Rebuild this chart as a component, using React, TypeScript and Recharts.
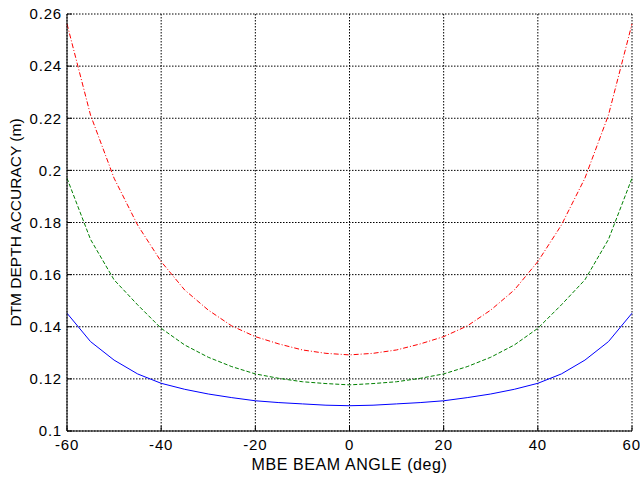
import React from "react";
import { LineChart, Line, XAxis, YAxis, CartesianGrid } from "recharts";

// beam angle (deg)
const angles = [
  -60, -55, -50, -45, -40, -35, -30, -25, -20, -15, -10, -5, 0,
  5, 10, 15, 20, 25, 30, 35, 40, 45, 50, 55, 60,
];

// DTM depth accuracy (m) for the three cases
const redSeries = [
  0.2562, 0.2212, 0.197, 0.179, 0.165, 0.1541, 0.1464, 0.1403, 0.1362, 0.1334, 0.1311, 0.1298, 0.1292,
  0.1298, 0.1311, 0.1334, 0.1362, 0.1403, 0.1464, 0.1541, 0.165, 0.179, 0.197, 0.2212, 0.2562,
];
const greenSeries = [
  0.197, 0.1735, 0.158, 0.1484, 0.1394, 0.133, 0.1283, 0.1247, 0.1219, 0.1202, 0.1189, 0.1182, 0.1177,
  0.1182, 0.1189, 0.1202, 0.1219, 0.1247, 0.1283, 0.133, 0.1394, 0.1484, 0.158, 0.1735, 0.197,
];
const blueSeries = [
  0.1452, 0.1343, 0.1272, 0.1219, 0.1183, 0.116, 0.1142, 0.1128, 0.1116, 0.1109, 0.1104, 0.1099, 0.1097,
  0.1099, 0.1104, 0.1109, 0.1116, 0.1128, 0.1142, 0.116, 0.1183, 0.1219, 0.1272, 0.1343, 0.1452,
];

const xTicks = [-60, -40, -20, 0, 20, 40, 60];
const yTicks = [0.1, 0.12, 0.14, 0.16, 0.18, 0.2, 0.22, 0.24, 0.26];

const data = angles.map((angle, i) => ({
  angle,
  red: redSeries[i],
  green: greenSeries[i],
  blue: blueSeries[i],
}));

const FONT = "'Liberation Sans', Arial, Helvetica, sans-serif";
const tickStyle = { fontSize: 15, fill: "#000", fontFamily: FONT, letterSpacing: 0.8 };

export default function App() {
  return (
    <div style={{ position: "absolute", left: 0, top: 0, background: "#fff" }}>
      <LineChart
        width={640}
        height={477}
        data={data}
        margin={{ top: 14, right: 8, left: 0, bottom: 0 }}
        style={{ fontFamily: FONT }}
      >
        <CartesianGrid stroke="#000" strokeDasharray="1.5 1.5" strokeWidth={1} />
        <XAxis
          dataKey="angle"
          type="number"
          domain={[-60, 60]}
          ticks={xTicks}
          height={46}
          tickSize={-5}
          tickMargin={13}
          tick={tickStyle}
          axisLine={{ stroke: "#000", strokeWidth: 1 }}
          tickLine={{ stroke: "#000" }}
          label={{
            value: "MBE BEAM ANGLE (deg)",
            position: "insideBottom",
            offset: 7,
            style: { fontSize: 16, fill: "#000", fontFamily: FONT, letterSpacing: 0.6 },
          }}
        />
        <XAxis
          xAxisId="top"
          orientation="top"
          mirror
          type="number"
          domain={[-60, 60]}
          allowDataOverflow
          ticks={xTicks}
          height={0}
          tick={false}
          tickSize={5}
          axisLine={{ stroke: "#000", strokeWidth: 1 }}
          tickLine={{ stroke: "#000" }}
        />
        <YAxis
          type="number"
          domain={[0.1, 0.26]}
          ticks={yTicks}
          width={67}
          tickSize={-5}
          tickMargin={10}
          tick={tickStyle}
          tickFormatter={(v: number) => String(+v.toFixed(2))}
          axisLine={{ stroke: "#000", strokeWidth: 1 }}
          tickLine={{ stroke: "#000" }}
          label={{
            value: "DTM DEPTH ACCURACY (m)",
            angle: -90,
            position: "insideLeft",
            offset: 15,
            style: { fontSize: 15.5, fill: "#000", fontFamily: FONT, textAnchor: "middle" },
          }}
        />
        <YAxis
          yAxisId="right"
          orientation="right"
          mirror
          type="number"
          domain={[0.1, 0.26]}
          allowDataOverflow
          ticks={yTicks}
          width={0}
          tick={false}
          tickSize={5}
          axisLine={{ stroke: "#000", strokeWidth: 1 }}
          tickLine={{ stroke: "#000" }}
        />
        <Line
          type="linear"
          dataKey="red"
          stroke="#ff0000"
          strokeWidth={1}
          strokeDasharray="5 2 1 2"
          dot={false}
          isAnimationActive={false}
        />
        <Line
          type="linear"
          dataKey="green"
          stroke="#008000"
          strokeWidth={1}
          strokeDasharray="4 2"
          dot={false}
          isAnimationActive={false}
        />
        <Line
          type="linear"
          dataKey="blue"
          stroke="#0000ff"
          strokeWidth={1}
          dot={false}
          isAnimationActive={false}
        />
      </LineChart>
    </div>
  );
}
